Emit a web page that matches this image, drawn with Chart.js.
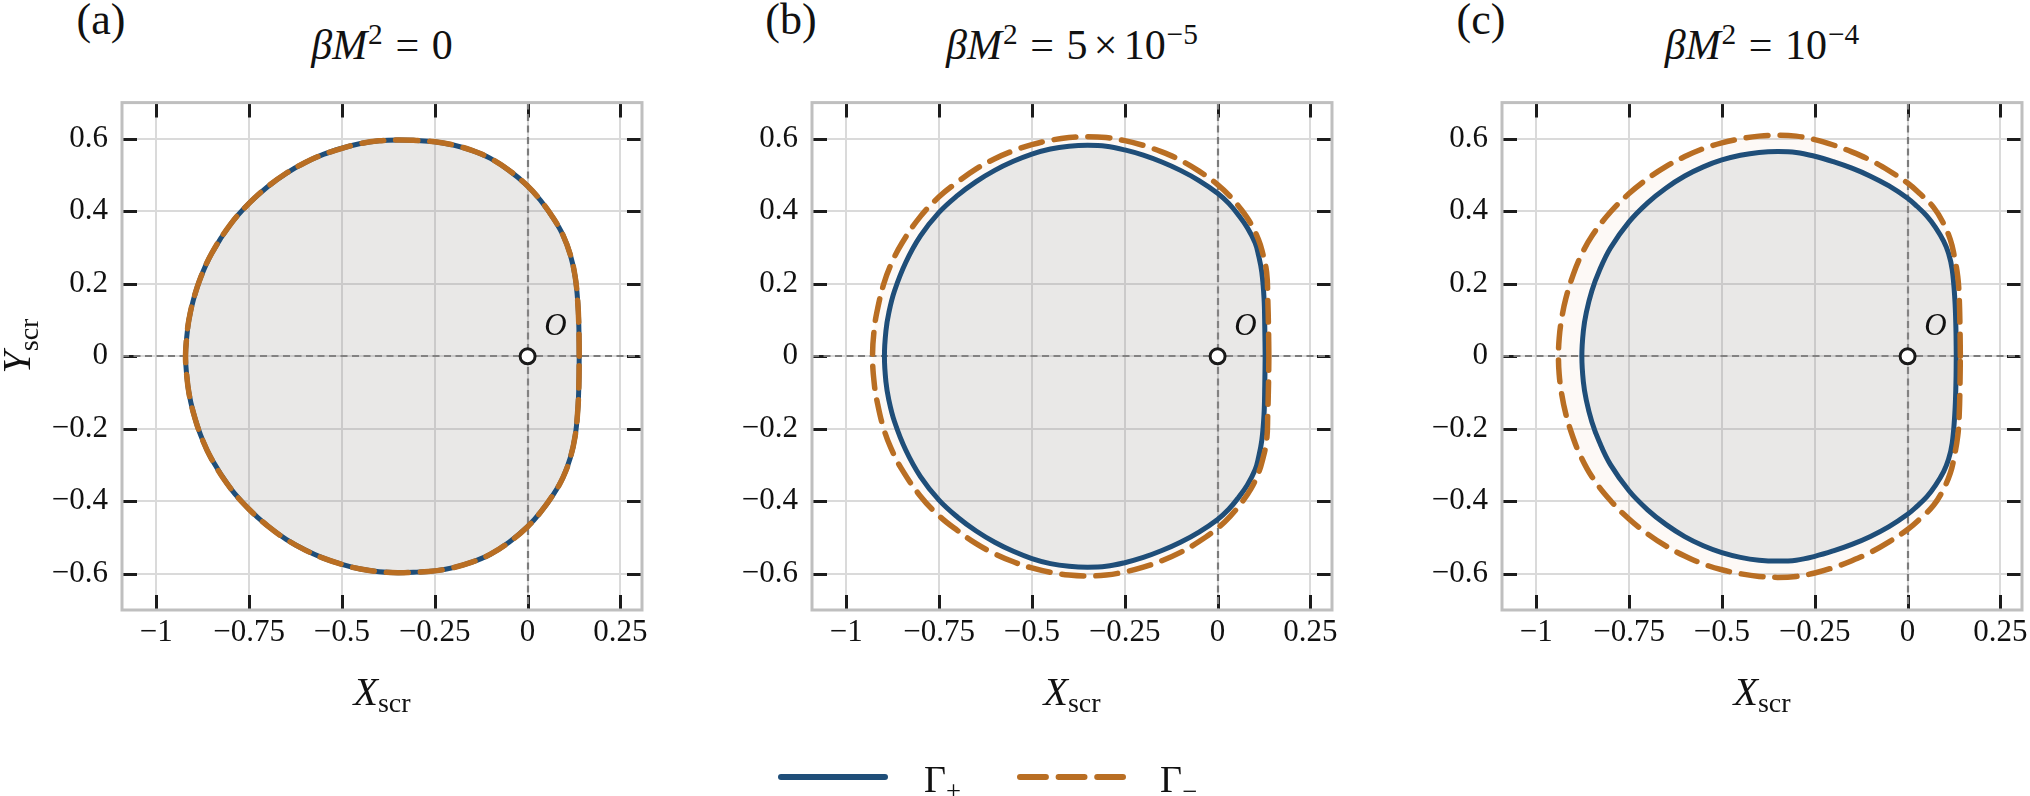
<!DOCTYPE html>
<html>
<head>
<meta charset="utf-8">
<title>Shadow contours</title>
<script src="https://cdn.jsdelivr.net/npm/chart.js@4.4.1/dist/chart.umd.min.js"></script>
<style>
    body { margin: 0; background: #fff; }
    #fig { position: relative; width: 2030px; height: 796px; overflow: hidden;
           font-family: 'Liberation Serif', 'Times New Roman', serif; color: #111; }
    .panel { position: absolute; top: 70px; width: 670px; height: 600px; }
    .txt { position: absolute; line-height: 1; white-space: nowrap; transform: translateX(-50%); }
    .txt sup, .txt sub { position: relative; font-size: 0.7em; vertical-align: baseline; }
    .txt sup { top: -0.5em; margin-left: 0.03em; }
    .txt sub { top: 0.28em; }
    .eq { margin: 0 0.3em; }
    .tm { margin: 0 0.15em; }
</style>
</head>
<body>
<div id="fig"></div>
<script>
const SERIF = "'Liberation Serif', 'Times New Roman', serif";

// axes
const xTicks = [-1, -0.75, -0.5, -0.25, 0, 0.25];
const yTicks = [-0.6, -0.4, -0.2, 0, 0.2, 0.4, 0.6];
const xRange = [-1.092, 0.308];
const yRange = [-0.7, 0.7];

const panelLetters = ['(a)', '(b)', '(c)'];
const panelTitles = [
    '<i>βM</i><sup>2</sup><span class="eq">=</span>0',
    '<i>βM</i><sup>2</sup><span class="eq">=</span>5<span class="tm">×</span>10<sup>−5</sup>',
    '<i>βM</i><sup>2</sup><span class="eq">=</span>10<sup>−4</sup>'
];

// Γ+ and Γ− contours, [X_scr, Y_scr], traced from the right edge counter-clockwise
const gammaPlusA = [
    [0.139, 0], [0.138, 0.08], [0.135, 0.15], [0.128, 0.22], [0.115, 0.28], [0.095, 0.335], [0.07, 0.38],
    [0.035, 0.43], [0, 0.47], [-0.05, 0.513], [-0.1, 0.546], [-0.15, 0.568], [-0.2, 0.583], [-0.25, 0.592],
    [-0.3, 0.5955], [-0.35, 0.597], [-0.4, 0.5945], [-0.45, 0.587], [-0.5, 0.574], [-0.55, 0.557], [-0.6, 0.534],
    [-0.65, 0.505], [-0.7, 0.468], [-0.75, 0.422], [-0.8, 0.364], [-0.85, 0.285], [-0.88, 0.218], [-0.9, 0.155],
    [-0.912, 0.1], [-0.918, 0.05], [-0.921, 0],
    [-0.918, -0.05], [-0.912, -0.1], [-0.9, -0.155], [-0.88, -0.218], [-0.85, -0.285], [-0.8, -0.364],
    [-0.75, -0.422], [-0.7, -0.468], [-0.65, -0.505], [-0.6, -0.534], [-0.55, -0.557], [-0.5, -0.574],
    [-0.45, -0.587], [-0.4, -0.5945], [-0.35, -0.597], [-0.3, -0.5955], [-0.25, -0.592], [-0.2, -0.583],
    [-0.15, -0.568], [-0.1, -0.546], [-0.05, -0.513], [0, -0.47], [0.035, -0.43], [0.07, -0.38],
    [0.095, -0.335], [0.115, -0.28], [0.128, -0.22], [0.135, -0.15], [0.138, -0.08], [0.139, 0]
];
// at βM² = 0 the two branches coincide
const gammaMinusA = gammaPlusA;

const gammaPlusB = [
    [0.128, 0], [0.127, 0.08], [0.125, 0.16], [0.119, 0.232], [0.11, 0.28], [0.101, 0.313], [0.08, 0.355],
    [0.056, 0.39], [0.03, 0.422], [0, 0.45], [-0.05, 0.485], [-0.1, 0.513], [-0.15, 0.536], [-0.2, 0.555],
    [-0.25, 0.5695], [-0.3, 0.5795], [-0.35, 0.582], [-0.4, 0.5795], [-0.45, 0.572], [-0.5, 0.558], [-0.55, 0.538],
    [-0.6, 0.513], [-0.65, 0.482], [-0.7, 0.444], [-0.75, 0.397], [-0.8, 0.332], [-0.84, 0.258], [-0.87, 0.18],
    [-0.885, 0.121], [-0.893, 0.07], [-0.897, 0],
    [-0.893, -0.07], [-0.885, -0.121], [-0.87, -0.18], [-0.84, -0.258], [-0.8, -0.332], [-0.75, -0.397],
    [-0.7, -0.444], [-0.65, -0.482], [-0.6, -0.513], [-0.55, -0.538], [-0.5, -0.558], [-0.45, -0.572],
    [-0.4, -0.5795], [-0.35, -0.582], [-0.3, -0.5795], [-0.25, -0.5695], [-0.2, -0.555], [-0.15, -0.536],
    [-0.1, -0.513], [-0.05, -0.485], [0, -0.45], [0.03, -0.422], [0.056, -0.39], [0.08, -0.355],
    [0.101, -0.313], [0.11, -0.28], [0.119, -0.232], [0.125, -0.16], [0.127, -0.08], [0.128, 0]
];
const gammaMinusB = [
    [0.138, 0], [0.137, 0.08], [0.135, 0.16], [0.132, 0.232], [0.12, 0.29], [0.11, 0.322], [0.09, 0.365],
    [0.065, 0.403], [0.035, 0.44], [0, 0.474], [-0.05, 0.511], [-0.1, 0.541], [-0.15, 0.564], [-0.2, 0.582],
    [-0.25, 0.595], [-0.3, 0.6035], [-0.35, 0.606], [-0.4, 0.6035], [-0.45, 0.596], [-0.5, 0.584],
    [-0.55, 0.567], [-0.6, 0.545], [-0.65, 0.517], [-0.7, 0.481], [-0.75, 0.44], [-0.8, 0.386],
    [-0.85, 0.312], [-0.88, 0.252], [-0.9, 0.196], [-0.915, 0.133], [-0.924, 0.079], [-0.929, 0],
    [-0.924, -0.079], [-0.915, -0.133], [-0.9, -0.196], [-0.88, -0.252], [-0.85, -0.312], [-0.8, -0.386],
    [-0.75, -0.44], [-0.7, -0.481], [-0.65, -0.517], [-0.6, -0.545], [-0.55, -0.567], [-0.5, -0.584],
    [-0.45, -0.596], [-0.4, -0.6035], [-0.35, -0.606], [-0.3, -0.6035], [-0.25, -0.595], [-0.2, -0.582],
    [-0.15, -0.564], [-0.1, -0.541], [-0.05, -0.511], [0, -0.474], [0.035, -0.44], [0.065, -0.403],
    [0.09, -0.365], [0.11, -0.322], [0.12, -0.29], [0.132, -0.232], [0.135, -0.16], [0.137, -0.08], [0.138, 0]
];

const gammaPlusC = [
    [0.131, 0], [0.13, 0.08], [0.127, 0.16], [0.12, 0.24], [0.11, 0.285], [0.097, 0.318], [0.075, 0.356],
    [0.052, 0.387], [0.025, 0.414], [0, 0.436], [-0.05, 0.47], [-0.1, 0.497], [-0.15, 0.519], [-0.2, 0.537],
    [-0.25, 0.552], [-0.3, 0.5625], [-0.35, 0.565], [-0.4, 0.5625], [-0.45, 0.5547], [-0.5, 0.5417],
    [-0.55, 0.5227], [-0.6, 0.4974], [-0.65, 0.4645], [-0.7, 0.4235], [-0.75, 0.371], [-0.8, 0.299],
    [-0.83, 0.236], [-0.85, 0.181], [-0.865, 0.121], [-0.873, 0.07], [-0.877, 0],
    [-0.873, -0.07], [-0.865, -0.121], [-0.85, -0.181], [-0.83, -0.236], [-0.8, -0.299], [-0.75, -0.371],
    [-0.7, -0.4235], [-0.65, -0.4645], [-0.6, -0.4974], [-0.55, -0.5227], [-0.5, -0.5417], [-0.45, -0.5547],
    [-0.4, -0.5625], [-0.35, -0.565], [-0.3, -0.5625], [-0.25, -0.552], [-0.2, -0.537], [-0.15, -0.519],
    [-0.1, -0.497], [-0.05, -0.47], [0, -0.436], [0.025, -0.414], [0.052, -0.387], [0.075, -0.356],
    [0.097, -0.318], [0.11, -0.285], [0.12, -0.24], [0.127, -0.16], [0.13, -0.08], [0.131, 0]
];
const gammaMinusC = [
    [0.142, 0], [0.141, 0.08], [0.139, 0.16], [0.135, 0.22], [0.125, 0.28], [0.115, 0.322], [0.095, 0.37],
    [0.07, 0.411], [0.035, 0.447], [0, 0.478], [-0.05, 0.512], [-0.1, 0.541], [-0.15, 0.564], [-0.2, 0.583],
    [-0.25, 0.598], [-0.3, 0.6075], [-0.35, 0.61], [-0.4, 0.6075], [-0.45, 0.6], [-0.5, 0.589],
    [-0.55, 0.573], [-0.6, 0.551], [-0.65, 0.524], [-0.7, 0.49], [-0.75, 0.449], [-0.8, 0.398],
    [-0.85, 0.332], [-0.88, 0.276], [-0.9, 0.226], [-0.92, 0.16], [-0.932, 0.1], [-0.938, 0.05], [-0.94, 0],
    [-0.938, -0.05], [-0.932, -0.1], [-0.92, -0.16], [-0.9, -0.226], [-0.88, -0.276], [-0.85, -0.332],
    [-0.8, -0.398], [-0.75, -0.449], [-0.7, -0.49], [-0.65, -0.524], [-0.6, -0.551], [-0.55, -0.573],
    [-0.5, -0.589], [-0.45, -0.6], [-0.4, -0.6075], [-0.35, -0.61], [-0.3, -0.6075], [-0.25, -0.598],
    [-0.2, -0.583], [-0.15, -0.564], [-0.1, -0.541], [-0.05, -0.512], [0, -0.478], [0.035, -0.447],
    [0.07, -0.411], [0.095, -0.37], [0.115, -0.322], [0.125, -0.28], [0.135, -0.22], [0.139, -0.16],
    [0.141, -0.08], [0.142, 0]
];

const origin = [[0, 0]];
const originLabel = { text: 'O', x: 0.075, y: 0.08 };
const legendLabels = ['Γ<sub>+</sub>', 'Γ<sub>−</sub>'];

const BLUE = '#1f4e79';
const ORANGE = '#b96e23';
const boxLeft = [122, 812, 1502];
const BOX_TOP = 90, BOX = 520;

const fig = document.getElementById('fig');
Chart.defaults.font.family = SERIF;
Chart.defaults.color = '#111';

function fmt(v) {
    return v < 0 ? '\u2212' + String(-v) : String(v);
}

function addText(html, cx, baseline, size) {
    const el = document.createElement('div');
    el.className = 'txt';
    el.innerHTML = html;
    el.style.left = cx + 'px';
    el.style.top = (baseline - 0.8375 * size) + 'px';
    el.style.fontSize = size + 'px';
    fig.appendChild(el);
    return el;
}

const panelDecor = {
    id: 'panelDecor',
    beforeDatasetsDraw(chart) {
        const { ctx, chartArea: a, scales: { x, y } } = chart;
        ctx.save();
        // inward ticks on all four sides
        ctx.strokeStyle = '#1c1c1c';
        ctx.lineWidth = 3;
        ctx.beginPath();
        xTicks.forEach(v => {
            const px = Math.round(x.getPixelForValue(v)) + 0.5;
            ctx.moveTo(px, a.bottom); ctx.lineTo(px, a.bottom - 15);
            ctx.moveTo(px, a.top); ctx.lineTo(px, a.top + 15);
        });
        yTicks.forEach(v => {
            const py = Math.round(y.getPixelForValue(v)) + 0.5;
            ctx.moveTo(a.left, py); ctx.lineTo(a.left + 15, py);
            ctx.moveTo(a.right, py); ctx.lineTo(a.right - 15, py);
        });
        ctx.stroke();
        // dashed axes through the origin
        const x0 = Math.round(x.getPixelForValue(0)), y0 = Math.round(y.getPixelForValue(0));
        ctx.strokeStyle = '#7c7c7c';
        ctx.lineWidth = 2.2;
        ctx.setLineDash([7, 4.5]);
        ctx.beginPath();
        ctx.moveTo(x0, a.top); ctx.lineTo(x0, a.bottom);
        ctx.moveTo(a.left, y0); ctx.lineTo(a.right, y0);
        ctx.stroke();
        ctx.restore();
    },
    afterDraw(chart) {
        const { ctx, chartArea: a, scales: { x, y } } = chart;
        ctx.save();
        ctx.strokeStyle = '#bfbfbf';
        ctx.lineWidth = 3;
        ctx.strokeRect(a.left, a.top, a.right - a.left, a.bottom - a.top);
        ctx.fillStyle = '#111';
        ctx.font = 'italic 31px ' + SERIF;
        ctx.textAlign = 'center';
        ctx.textBaseline = 'middle';
        ctx.fillText(originLabel.text, x.getPixelForValue(originLabel.x), y.getPixelForValue(originLabel.y));
        ctx.restore();
    }
};

function makePanel(i, plus, minus) {
    const wrap = document.createElement('div');
    wrap.className = 'panel';
    wrap.style.left = (boxLeft[i] - 120) + 'px';
    const canvas = document.createElement('canvas');
    wrap.appendChild(canvas);
    fig.appendChild(wrap);

    const curve = { showLine: true, pointRadius: 0, tension: 0.4 };
    const tickFont = { family: SERIF, size: 31 };
    new Chart(canvas, {
        type: 'line',
        data: {
            datasets: [
                { data: origin, showLine: false, pointRadius: 7.5, pointBackgroundColor: '#fff',
                  pointBorderColor: '#1a1a1a', pointBorderWidth: 3 },
                { ...curve, data: minus, borderColor: ORANGE, borderWidth: 5.5, borderDash: [22, 12],
                  borderCapStyle: 'round', fill: false },
                { ...curve, data: plus, borderColor: BLUE, borderWidth: 5, fill: false },
                { ...curve, data: plus, borderWidth: 0, borderColor: 'rgba(0,0,0,0)',
                  backgroundColor: 'rgba(150,160,170,0.2)', fill: 'shape' },
                { ...curve, data: minus, borderWidth: 0, borderColor: 'rgba(0,0,0,0)',
                  backgroundColor: 'rgba(200,120,40,0.045)', fill: 'shape' }
            ]
        },
        options: {
            animation: false,
            responsive: true,
            maintainAspectRatio: false,
            events: [],
            layout: { padding: { top: 20, right: 30, left: 0, bottom: 0 } },
            plugins: { legend: { display: false }, tooltip: { enabled: false } },
            scales: {
                x: {
                    type: 'linear', min: xRange[0], max: xRange[1],
                    afterBuildTicks: s => { s.ticks = xTicks.map(v => ({ value: v })); },
                    afterFit: s => { s.height = 60; },
                    grid: { color: '#dadada', lineWidth: 2, drawTicks: false },
                    border: { display: false },
                    ticks: { padding: 4, autoSkip: false, maxRotation: 0, callback: fmt, font: tickFont, color: '#111' }
                },
                y: {
                    type: 'linear', min: yRange[0], max: yRange[1],
                    afterBuildTicks: s => { s.ticks = yTicks.map(v => ({ value: v })); },
                    afterFit: s => { s.width = 120; },
                    grid: { color: '#dadada', lineWidth: 2, drawTicks: false },
                    border: { display: false },
                    ticks: { padding: 14, autoSkip: false, callback: fmt, font: tickFont, color: '#111' }
                }
            }
        },
        plugins: [panelDecor]
    });

    const cx = boxLeft[i] + BOX / 2;
    addText(panelLetters[i], boxLeft[i] - 21, 35, 44);
    addText(panelTitles[i], cx, 59, 42);
    addText('<i>X</i><sub>scr</sub>', cx, 705, 40);
}

makePanel(0, gammaPlusA, gammaMinusA);
makePanel(1, gammaPlusB, gammaMinusB);
makePanel(2, gammaPlusC, gammaMinusC);

// y axis label, only on the first panel
const yl = addText('<i>Y</i><sub>scr</sub>', 0, 0, 40);
yl.style.left = '17px';
yl.style.top = (BOX_TOP + BOX / 2 - 4) + 'px';
yl.style.transform = 'translate(-50%, -50%) rotate(-90deg)';

// legend
const svgNS = 'http://www.w3.org/2000/svg';
const svg = document.createElementNS(svgNS, 'svg');
svg.setAttribute('width', '2030');
svg.setAttribute('height', '796');
svg.style.position = 'absolute';
svg.style.left = '0';
svg.style.top = '0';
[[778, 888, BLUE, null], [1017, 1126, ORANGE, '25.9 12.7']].forEach(([x1, x2, col, dash]) => {
    const ln = document.createElementNS(svgNS, 'line');
    ln.setAttribute('x1', x1 + 3); ln.setAttribute('x2', x2 - 3);
    ln.setAttribute('y1', 777); ln.setAttribute('y2', 777);
    ln.setAttribute('stroke', col); ln.setAttribute('stroke-width', 6);
    ln.setAttribute('stroke-linecap', 'round');
    if (dash) ln.setAttribute('stroke-dasharray', dash);
    svg.appendChild(ln);
});
fig.appendChild(svg);
const g1 = addText(legendLabels[0], 0, 792, 38);
g1.style.left = '924px'; g1.style.transform = 'none';
const g2 = addText(legendLabels[1], 0, 792, 38);
g2.style.left = '1160px'; g2.style.transform = 'none';
</script>
</body>
</html>
